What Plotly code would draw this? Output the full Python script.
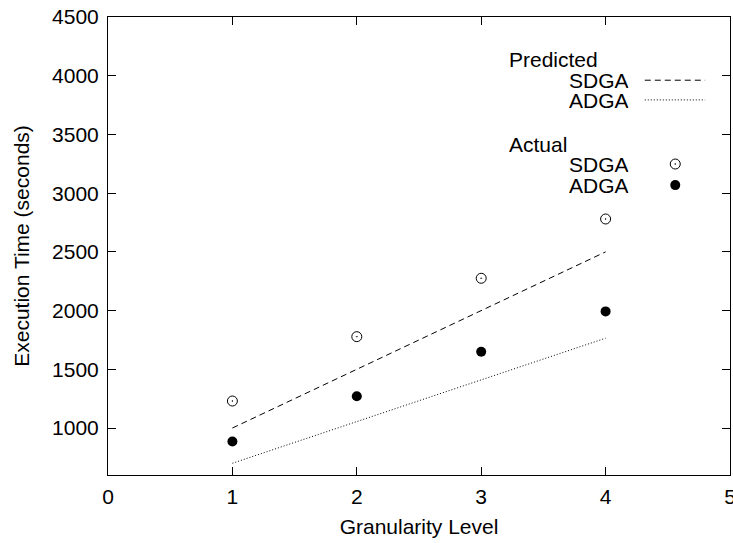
import plotly.graph_objects as go

levels = [1, 2, 3, 4]
pred_sdga = [1000, 1500, 2000, 2500]
pred_adga = [700, 1055, 1410, 1765]
act_sdga = [1230, 1778, 2275, 2780]
act_adga = [885, 1270, 1650, 1993]

x_ticks = [0, 1, 2, 3, 4, 5]
y_ticks = [1000, 1500, 2000, 2500, 3000, 3500, 4000, 4500]

FONT = "Liberation Sans, Arial, sans-serif"
FS = 21

fig = go.Figure()
fig.add_trace(go.Scatter(x=levels, y=pred_sdga, mode="lines",
                         line=dict(color="black", width=1, dash="6px,4px"), showlegend=False))
fig.add_trace(go.Scatter(x=levels, y=pred_adga, mode="lines",
                         line=dict(color="black", width=1, dash="1px,2px"), showlegend=False))
fig.add_trace(go.Scatter(x=levels, y=act_sdga, mode="markers",
                         marker=dict(symbol="circle-dot", size=10, color="white",
                                     line=dict(color="black", width=1)), showlegend=False))
fig.add_trace(go.Scatter(x=levels, y=act_adga, mode="markers",
                         marker=dict(symbol="circle", size=10, color="black"), showlegend=False))

axis_common = dict(showline=True, linecolor="black", linewidth=1, mirror="allticks",
                   ticks="inside", ticklen=8, tickcolor="black", showgrid=False,
                   zeroline=False, automargin=False,
                   tickfont=dict(size=FS, color="black", family=FONT))
fig.update_xaxes(range=[0, 5], tickvals=x_ticks, ticktext=[str(v) for v in x_ticks],
                 ticklabeloverflow="allow", ticklabelstandoff=3,
                 title=dict(text="Granularity Level", font=dict(size=FS, color="black", family=FONT),
                            standoff=12), **axis_common)
fig.update_yaxes(range=[600, 4500], tickvals=y_ticks, ticktext=[str(v) for v in y_ticks],
                 ticklabelstandoff=4,
                 title=dict(text="Execution Time (seconds)", font=dict(size=FS, color="black", family=FONT),
                            standoff=16), **axis_common)

# legend (gnuplot style, text then sample)
tf = dict(size=FS, color="black", family=FONT)
for txt, yp in [("Predicted", 0.908), ("Actual", 0.723)]:
    fig.add_annotation(x=0.641, y=yp, xref="paper", yref="paper", text=txt, showarrow=False,
                       xanchor="left", yanchor="middle", font=tf, height=20)
for txt, yp in [("SDGA", 0.862), ("ADGA", 0.819), ("SDGA", 0.679), ("ADGA", 0.633)]:
    fig.add_annotation(x=0.841, y=yp, xref="paper", yref="paper", text=txt, showarrow=False,
                       xanchor="right", yanchor="middle", font=tf, height=20)
fig.add_shape(type="line", xref="paper", yref="paper", x0=0.863, x1=0.960, y0=0.862, y1=0.862,
              line=dict(color="black", width=1, dash="6px,4px"))
fig.add_shape(type="line", xref="paper", yref="paper", x0=0.863, x1=0.960, y0=0.819, y1=0.819,
              line=dict(color="black", width=1, dash="1px,2px"))
fig.add_trace(go.Scatter(x=[0.912], y=[0.679], xaxis="x2", yaxis="y2", mode="markers",
                         marker=dict(symbol="circle-dot", size=10, color="white",
                                     line=dict(color="black", width=1)), showlegend=False,
                         hoverinfo="skip"))
fig.add_trace(go.Scatter(x=[0.912], y=[0.633], xaxis="x2", yaxis="y2", mode="markers",
                         marker=dict(symbol="circle", size=10, color="black"), showlegend=False,
                         hoverinfo="skip"))

fig.update_layout(
    width=733, height=543,
    margin=dict(l=108, r=3, t=17, b=68, autoexpand=False),
    plot_bgcolor="white", paper_bgcolor="white",
    xaxis2=dict(overlaying="x", range=[0, 1], visible=False),
    yaxis2=dict(overlaying="y", range=[0, 1], visible=False),
    font=dict(family=FONT, color="black"),
)
fig.write_html("out.html", config={"displayModeBar": False, "responsive": False},
               post_script="document.body.style.margin='0';document.body.style.overflow='hidden';")
